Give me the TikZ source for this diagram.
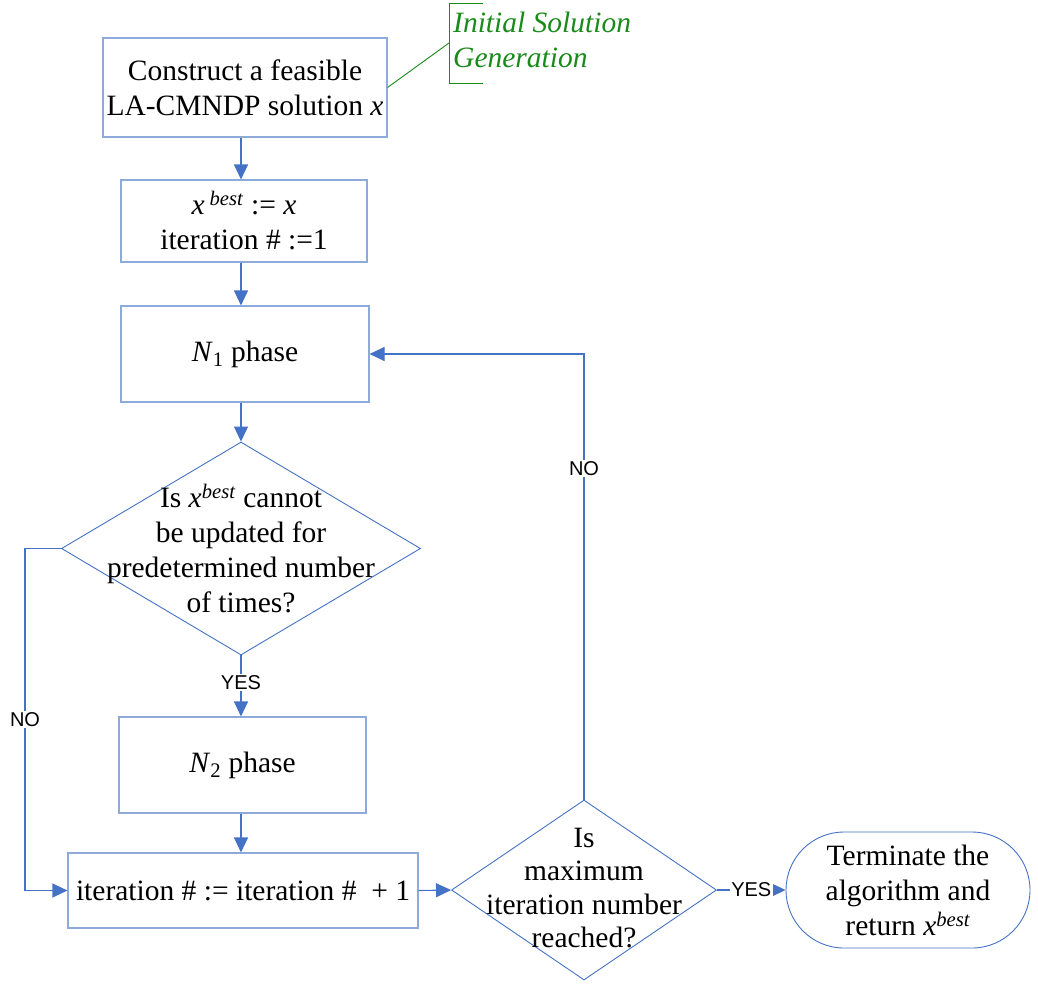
\documentclass[tikz,border=0pt]{standalone}
\usepackage{fontspec}
\setmainfont{Liberation Serif}
\newfontfamily\labelfont{Liberation Sans}
\usetikzlibrary{shapes.geometric,arrows.meta}
\definecolor{boxline}{HTML}{8EAADB}
\definecolor{flowline}{HTML}{4472C4}
\definecolor{notegreen}{HTML}{1A8A1A}
\newcommand{\xb}{\textit{x}}
\newcommand{\best}{\textsuperscript{\textit{best}}}
\begin{document}
\begin{tikzpicture}[x=1pt,y=-1pt,
  every node/.style={font=\fontsize{29.5}{35}\selectfont},
  procbox/.style={draw=boxline,line width=1.1pt,rectangle,align=center,inner sep=0pt},
  decision/.style={draw=flowline,line width=0.9pt,diamond,inner sep=0pt},
  terminal/.style={draw=flowline,line width=0.9pt,rectangle,rounded corners=58pt,align=center,inner sep=0pt},
  flow/.style={draw=flowline,line width=1.1pt,-{Triangle[length=15pt,width=14pt]}},
  plain/.style={draw=flowline,line width=1.1pt},
  flowlabel/.style={fill=white,inner sep=1.5pt,font=\labelfont\fontsize{20}{24}\selectfont},
  dtext/.style={align=center,inner sep=0pt}]
\useasboundingbox (0,0) rectangle (1038,983);

% vertical spine of the main column
\coordinate (spine) at (241,0);
\coordinate (leftrail) at (25,0);

% process boxes
\node[procbox,minimum width=284pt,minimum height=99pt] (init) at (245,87.5)
  {Construct a feasible\\LA-CMNDP solution \xb};
\node[procbox,minimum width=246pt,minimum height=82pt] (setbest) at (244,221)
  {\xb\,\best\ := \xb\\iteration \# :=1};
\node[procbox,minimum width=248pt,minimum height=96pt] (none) at (245,354)
  {\textit{N}\textsubscript{1} phase};
\node[procbox,minimum width=247pt,minimum height=96pt] (ntwo) at (242.5,765)
  {\textit{N}\textsubscript{2} phase};
\node[procbox,minimum width=350pt,minimum height=75pt] (incr) at (243,890.5)
  {iteration \# := iteration \#\ \ + 1};

% decisions
\node[decision,minimum width=359pt,minimum height=213pt] (dstall) at (241,548.5) {};
\node[dtext] at (dstall.center)
  {Is \xb\best\ cannot\\be updated for\\predetermined number\\of times?};
\node[decision,minimum width=265pt,minimum height=180pt] (dmax) at (584,890) {};
\node[dtext,font=\fontsize{29.5}{33.3}\selectfont] at ([yshift=2pt]dmax.center)
  {Is\\maximum\\iteration number\\reached?};

% terminal
\node[terminal,minimum width=244pt,minimum height=116pt] (term) at (908,890)
  {Terminate the\\algorithm and\\return \xb\best};

% annotation with its bracket
\coordinate (brtop) at (449,3);
\coordinate (brbot) at (449,83);
\coordinate (brmid) at (449,43);
\node[anchor=north west,inner xsep=4pt,inner ysep=0pt,align=left,text=notegreen,
  font=\fontsize{29.5}{35}\selectfont\itshape] (note) at (449,12)
  {Initial Solution\\Generation};
\draw[notegreen,line width=0.9pt] ([xshift=34pt]brtop) -- (brtop) -- (brbot) -- ([xshift=34pt]brbot);
\draw[notegreen,line width=0.9pt] (init.east) -- (brmid);

% main column connectors
\draw[flow] (init.south -| spine) -- (setbest.north -| spine);
\draw[flow] (setbest.south -| spine) -- (none.north -| spine);
\draw[flow] (none.south -| spine) -- (dstall.north);
\draw[flow] (dstall.south) -- node[flowlabel,pos=0.45]{YES} (ntwo.north -| spine);
\draw[flow] (ntwo.south -| spine) -- (incr.north -| spine);

% NO branch of the stall test
\draw[plain] (dstall.west) -- (dstall.west -| leftrail)
  -- node[flowlabel,pos=0.5]{NO} (incr.west -| leftrail);
\draw[flow] (incr.west -| leftrail) -- (incr.west);

% to the iteration test
\draw[flow] (incr.east) -- (dmax.west);

% NO loop back to N1
\draw[flow] (dmax.north) -- node[flowlabel,pos=0.743]{NO} (dmax.north |- none.east) -- (none.east);

% YES to terminate
\draw[flow] (dmax.east) -- node[flowlabel,pos=0.5]{YES} (term.west);
\end{tikzpicture}
\end{document}
